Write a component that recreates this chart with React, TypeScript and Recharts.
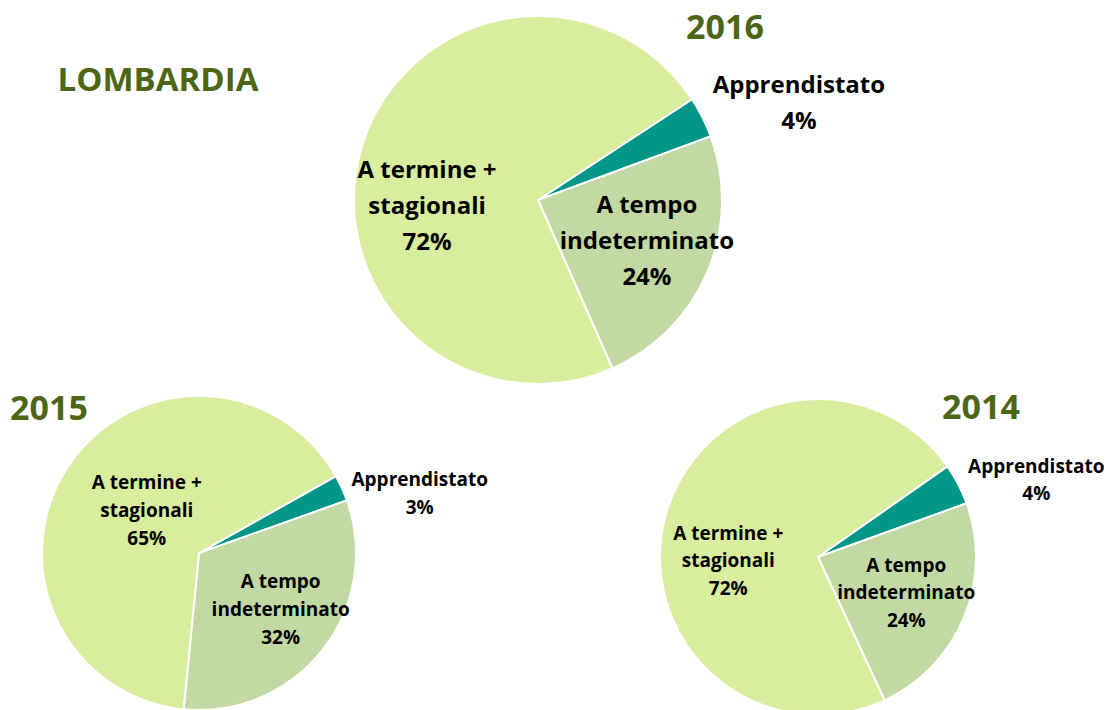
import React from "react";
import { PieChart, Pie, Cell } from "recharts";

const categories = ["Apprendistato", "A tempo indeterminato", "A termine + stagionali"];
const categoryLines = [["Apprendistato"], ["A tempo", "indeterminato"], ["A termine +", "stagionali"]];
const years = ["2016", "2015", "2014"];
const values2016 = [3.6, 24.0, 72.4];
const values2015 = [2.7, 32.0, 65.3];
const values2014 = [4.2, 23.6, 72.2];
const startAngles = [33.2, 29.3, 35.0];
const regionTitle = "LOMBARDIA";

const sliceColors = ["#009688", "#c3d9a3", "#d8ed9d"];
const titleColor = "#4c6616";
const FONT = "'Open Sans', 'Noto Sans', sans-serif";

const buildData = (vals: number[]) =>
  categories.map((name, i) => ({ name, value: vals[i], lines: categoryLines[i] }));

const pieLayout = [
  {
    cx: 538, cy: 200, r: 184, fontSize: 24, lineHeight: 36,
    offsets: [[1.418, -0.533], [0.592, 0.217], [-0.603, 0.027]],
    title: { x: 725, y: 26 },
  },
  {
    cx: 199, cy: 553, r: 157, fontSize: 19, lineHeight: 28,
    offsets: [[1.406, -0.384], [0.52, 0.355], [-0.333, -0.276]],
    title: { x: 49, y: 407 },
  },
  {
    cx: 818, cy: 557, r: 158, fontSize: 19, lineHeight: 27.5,
    offsets: [[1.382, -0.492], [0.559, 0.223], [-0.568, 0.021]],
    title: { x: 981, y: 406 },
  },
];

const allValues = [values2016, values2015, values2014];

const makeLabel = (layoutIdx: number) => (props: any) => {
  const { cx, cy, outerRadius, percent, index, payload } = props;
  const L = pieLayout[layoutIdx];
  const [fx, fy] = L.offsets[index];
  const x = cx + fx * outerRadius;
  const y = cy + fy * outerRadius;
  const lines: string[] = [...(payload?.lines ?? categoryLines[index]), `${Math.round(percent * 100)}%`];
  const y0 = y - ((lines.length - 1) / 2) * L.lineHeight;
  return (
    <text
      key={`lbl-${layoutIdx}-${index}`}
      x={x}
      y={y0}
      textAnchor="middle"
      fill="#000"
      fontFamily={FONT}
      fontWeight={700}
      fontSize={L.fontSize}
    >
      {lines.map((ln, i) => (
        <tspan key={i} x={x} y={y0 + i * L.lineHeight} dominantBaseline="central">
          {ln}
        </tspan>
      ))}
    </text>
  );
};

export default function App() {
  return (
    <div style={{ position: "absolute", left: 0, top: 0, width: 1113, height: 710, background: "#fff", overflow: "hidden" }}>
      <PieChart width={1113} height={710} margin={{ top: 0, right: 0, bottom: 0, left: 0 }}>
        {pieLayout.map((L, k) => (
          <Pie
            key={years[k]}
            data={buildData(allValues[k])}
            dataKey="value"
            nameKey="name"
            cx={L.cx}
            cy={L.cy}
            outerRadius={L.r}
            innerRadius={0}
            startAngle={startAngles[k]}
            endAngle={startAngles[k] - 360}
            stroke="#ffffff"
            strokeWidth={2}
            isAnimationActive={false}
            labelLine={false}
            label={makeLabel(k)}
          >
            {categories.map((c, i) => (
              <Cell key={c} fill={sliceColors[i]} />
            ))}
          </Pie>
        ))}
      </PieChart>
      <div
        style={{
          position: "absolute", left: 158, top: 78, transform: "translate(-50%, -50%)",
          fontFamily: FONT, fontWeight: 700, fontSize: 33, color: titleColor, lineHeight: 1, whiteSpace: "nowrap",
        }}
      >
        {regionTitle}
      </div>
      {pieLayout.map((L, k) => (
        <div
          key={`t-${years[k]}`}
          style={{
            position: "absolute", left: L.title.x, top: L.title.y, transform: "translate(-50%, -50%)",
            fontFamily: FONT, fontWeight: 700, fontSize: 34, color: titleColor, lineHeight: 1, whiteSpace: "nowrap",
          }}
        >
          {years[k]}
        </div>
      ))}
    </div>
  );
}
